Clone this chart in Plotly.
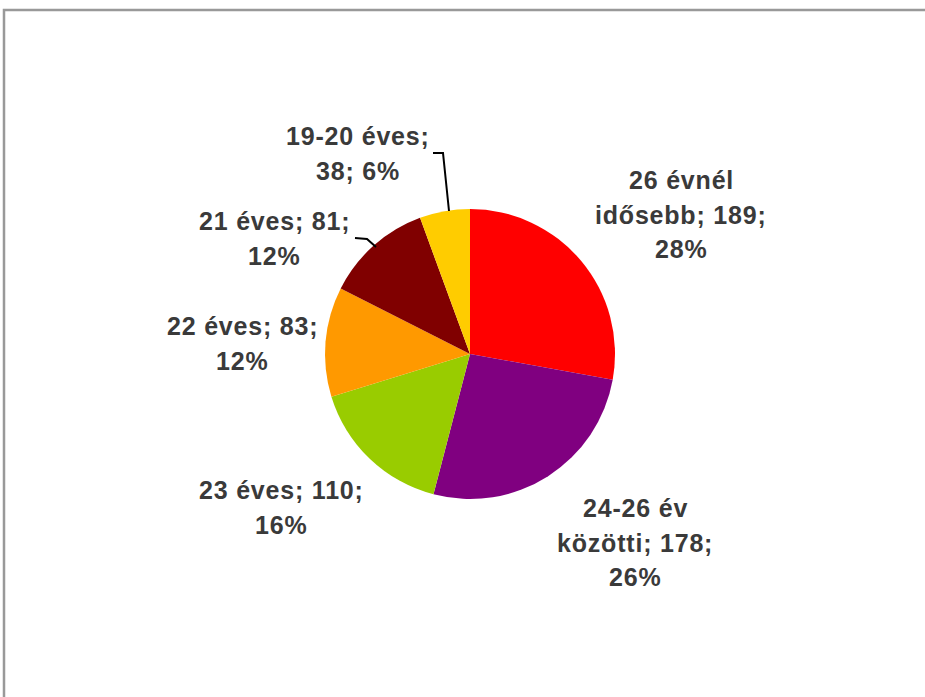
import plotly.graph_objects as go

# ---- data ----
categories = ["26 évnél idősebb", "24-26 év közötti", "23 éves", "22 éves", "21 éves", "19-20 éves"]
values = [189, 178, 110, 83, 81, 38]
colors = ["#FF0000", "#800080", "#99CC00", "#FF9900", "#800000", "#FFCC00"]

# ---- label styling (layout only) ----
words_per_line = [[2, 2, 1], [2, 2, 1], [3, 1], [3, 1], [3, 1], [2, 2]]
label_pos = [(681, 180), (635, 508), (281, 490), (242, 326), (274, 221), (358, 136)]
line_gap = 34.5

W, H = 925, 697


def px(x, y):
    return x / W, 1 - y / H


total = sum(values)
fig = go.Figure(
    go.Pie(
        labels=categories,
        values=values,
        sort=False,
        direction="clockwise",
        rotation=0,
        marker=dict(colors=colors, line=dict(width=0)),
        textinfo="none",
        showlegend=False,
        domain=dict(x=[325 / W, 615 / W], y=[1 - 499 / H, 1 - 209 / H]),
    )
)

annotations = []
for cat, val, wpl, (cx, cy) in zip(categories, values, words_per_line, label_pos):
    pct = round(val / total * 100)
    words = f"{cat}; {val}; {pct}%".split(" ")
    i = 0
    for k, n in enumerate(wpl):
        line = " ".join(words[i:i + n])
        i += n
        xx, yy = px(cx, cy + k * line_gap)
        annotations.append(dict(
            x=xx, y=yy, xref="paper", yref="paper",
            text=f'<span style="letter-spacing:0.8px">{line}</span>',
            showarrow=False, xanchor="center", yanchor="middle",
            font=dict(family="Liberation Sans, Arial", size=25, color="#3a3a3a", weight="bold"),
        ))

shapes = []
# frame
x0, y1 = px(4, 10)
x1, y0 = px(928, 700)
shapes.append(dict(type="rect", xref="paper", yref="paper", x0=x0, y0=y0, x1=x1, y1=y1,
                   line=dict(color="#999999", width=2.5), fillcolor="rgba(0,0,0,0)"))
# leader lines
leaders = [
    [(433, 153), (443, 153), (449, 211)],
    [(355, 238), (367, 239), (376, 247)],
]
for pts in leaders:
    path = "M " + " L ".join(f"{px(a, b)[0]} {px(a, b)[1]}" for a, b in pts)
    shapes.append(dict(type="path", xref="paper", yref="paper", path=path,
                       line=dict(color="#000000", width=2)))

fig.update_layout(
    width=W, height=H,
    margin=dict(l=0, r=0, t=0, b=0),
    paper_bgcolor="white", plot_bgcolor="white",
    annotations=annotations, shapes=shapes,
)

fig.write_html("out.html", config={"displayModeBar": False},
               post_script="document.body.style.margin='0';document.body.style.overflow='hidden';")
